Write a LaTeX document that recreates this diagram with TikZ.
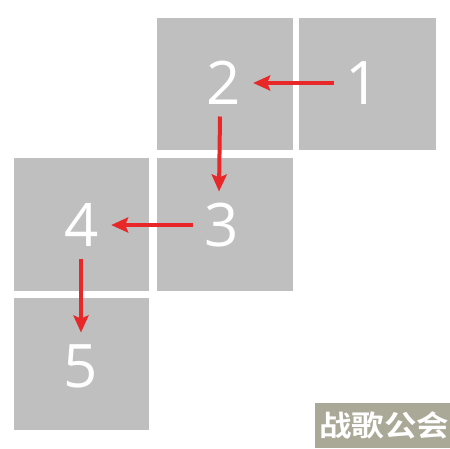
\documentclass[tikz,border=0pt]{standalone}
\usepackage{fontspec}
\setmainfont{Open Sans}
\newfontfamily\cjkfont{Noto Sans CJK SC Bold}
\usetikzlibrary{arrows.meta}
\definecolor{sq}{RGB}{191,191,191}
\definecolor{arr}{RGB}{232,40,40}
\definecolor{wm}{RGB}{170,168,150}
\begin{document}
\begin{tikzpicture}[x=1pt,y=-1pt,
  square/.style={fill=sq,draw=none},
  num/.style={text=white,font=\fontsize{60}{60}\selectfont,inner sep=0pt,text height=43pt,text depth=0pt,outer sep=12pt},
  redarrow/.style={draw=arr,line width=4pt,-{Stealth[length=17pt,width=15pt,inset=3pt]}}]
\useasboundingbox (0,0) rectangle (450,448);
\fill[white] (0,0) rectangle (450,448);
\path[square] (157,18) rectangle (293,150);
\path[square] (299,18) rectangle (436,150);
\path[square] (157,158) rectangle (293,291);
\path[square] (14,158) rectangle (149,291);
\path[square] (14,298) rectangle (149,430);
\node[num] (l1) at (363,83) {1};
\node[num] (l2) at (224,83) {2};
\node[num] (l3) at (222,225) {3};
\node[num] (l4) at (82,225) {4};
\node[num] (l5) at (81,366) {5};
\draw[redarrow] (l1.west) -- (l2.east);
\draw[redarrow] ([xshift=-4pt]l2.south) -- ([xshift=-3pt]l3.north);
\draw[redarrow] (l3.west) -- (l4.east);
\draw[redarrow] ([xshift=-1pt]l4.south) -- (l5.north);
\path[fill=wm] (315,403) rectangle (450,448);
\node[text=white,font=\cjkfont\fontsize{29}{29}\selectfont,inner sep=0pt,xscale=1.12] (wmk) at (384,425) {战歌公会};
\end{tikzpicture}
\end{document}
